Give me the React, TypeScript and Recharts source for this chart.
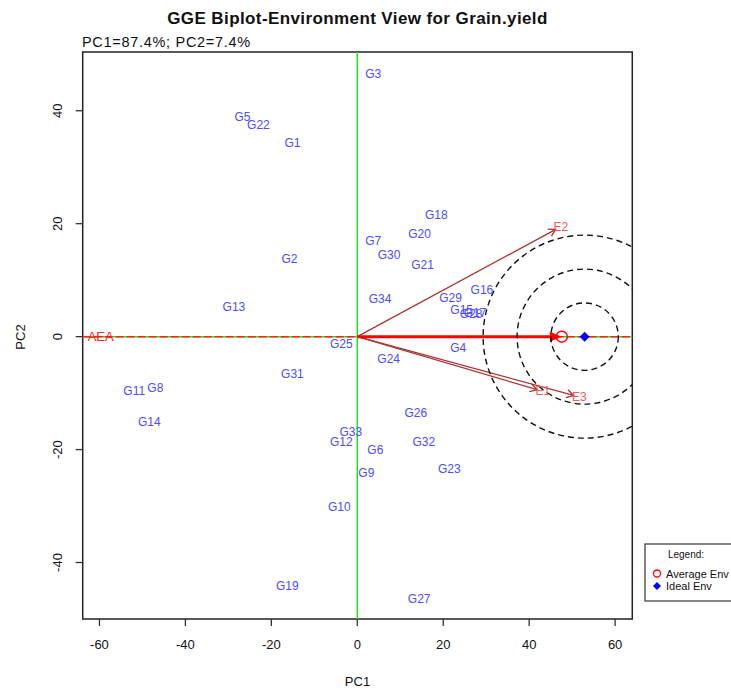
import React from "react";
import {
  ScatterChart,
  Scatter,
  XAxis,
  YAxis,
  ReferenceLine,
  ReferenceDot,
  ReferenceArea,
  Customized,
} from "recharts";

// genotype scores
const genotypes = [
  "G1", "G2", "G3", "G4", "G5", "G6", "G7", "G8", "G9", "G10",
  "G11", "G12", "G13", "G14", "G15", "G16", "G17", "G18", "G19", "G20",
  "G21", "G22", "G23", "G24", "G25", "G26", "G27", "G28", "G29", "G30",
  "G31", "G32", "G33", "G34",
];
const genoPC1 = [
  -15.1, -15.8, 3.7, 23.5, -26.7, 4.2, 3.7, -47.0, 2.1, -4.2,
  -51.9, -3.7, -28.7, -48.4, 24.3, 29.0, 27.4, 18.4, -16.3, 14.5,
  15.2, -23.0, 21.4, 7.3, -3.7, 13.6, 14.4, 26.5, 21.7, 7.4,
  -15.1, 15.5, -1.5, 5.3,
];
const genoPC2 = [
  34.2, 13.8, 46.5, -2.1, 38.9, -20.0, 17.0, -9.1, -24.1, -30.2,
  -9.6, -18.7, 5.2, -15.2, 4.7, 8.2, 4.2, 21.6, -44.2, 18.1,
  12.7, 37.4, -23.5, -3.9, -1.3, -13.6, -46.4, 4.0, 6.8, 14.5,
  -6.6, -18.7, -16.8, 6.7,
];

// environments
const envNames = ["E1", "E2", "E3"];
const envPC1 = [43.2, 47.4, 51.7];
const envPC2 = [-9.7, 19.5, -10.7];

const avgEnv = { x: 47.6, y: 0 };
const idealEnv = { x: 52.9, y: 0 };

const xTicks = [-60, -40, -20, 0, 20, 40, 60];
const yTicks = [-40, -20, 0, 20, 40];

const genoData = genotypes.map((name, i) => ({ name, x: genoPC1[i], y: genoPC2[i] }));
const envData = envNames.map((name, i) => ({ name, x: envPC1[i], y: envPC2[i] }));

const FONT = "'Liberation Sans', Arial, sans-serif";
const GREEN = "#22e022";
const BROWN = "#a83434";
const circleRadii = [33.7, 67.5, 101.5];

const GenoLabel = (props: any) => (
  <text
    x={props.cx}
    y={props.cy}
    textAnchor="middle"
    dominantBaseline="central"
    fontSize={12}
    fontFamily={FONT}
    fill="#4b4bff"
  >
    {props.payload.name}
  </text>
);

const EnvLabel = (props: any) => (
  <text
    x={props.cx}
    y={props.cy}
    textAnchor="middle"
    dominantBaseline="central"
    fontSize={12}
    fontFamily={FONT}
    fill="#f05a5a"
  >
    {props.payload.name}
  </text>
);

const AvgMarker = (props: any) => (
  <circle cx={props.cx} cy={props.cy} r={5.5} fill="none" stroke="#ff0000" strokeWidth={1.5} />
);

const IdealMarker = (props: any) => {
  const { cx, cy } = props;
  const s = 5;
  return (
    <polygon
      points={`${cx},${cy - s} ${cx + s},${cy} ${cx},${cy + s} ${cx - s},${cy}`}
      fill="#0000ff"
    />
  );
};

// vector from the origin with an arrow head, shortened a little at the tip
const envArrow = (props: any) => {
  const { x1, y1, x2, y2 } = props;
  const dx = x2 - x1;
  const dy = y2 - y1;
  const len = Math.hypot(dx, dy);
  const ux = dx / len;
  const uy = dy / len;
  const ex = x2 - ux * 6;
  const ey = y2 - uy * 6;
  const h = 8;
  const c = Math.cos(Math.PI / 6);
  const s = Math.sin(Math.PI / 6);
  const ax = ex - h * (ux * c - uy * s);
  const ay = ey - h * (uy * c + ux * s);
  const bx = ex - h * (ux * c + uy * s);
  const by = ey - h * (uy * c - ux * s);
  return (
    <g>
      <line x1={x1} y1={y1} x2={ex} y2={ey} stroke={BROWN} strokeWidth={1.3} />
      <polyline points={`${ax},${ay} ${ex},${ey} ${bx},${by}`} fill="none" stroke={BROWN} strokeWidth={1.3} />
    </g>
  );
};

const aeaArrow = (props: any) => {
  const { x1, y1, x2, y2 } = props;
  const dir = x2 > x1 ? 1 : -1;
  const h = 12;
  return (
    <g>
      <line x1={x1} y1={y1} x2={x2 - dir * h} y2={y2} stroke="#ff0000" strokeWidth={3} />
      <polygon points={`${x2},${y2} ${x2 - dir * h},${y2 - 5} ${x2 - dir * h},${y2 + 5}`} fill="#ff0000" />
    </g>
  );
};

const YTick = (props: any) => {
  const { x, y, payload } = props;
  return (
    <text
      x={x}
      y={y}
      transform={`rotate(-90, ${x}, ${y})`}
      textAnchor="middle"
      fontSize={13}
      fontFamily={FONT}
      fill="#111"
    >
      {payload.value}
    </text>
  );
};

const Annotations = () => (
  <g fontFamily={FONT}>
    <text x={357.5} y={24} textAnchor="middle" fontSize={17} fontWeight="bold" letterSpacing={0.4} fill="#111">
      GGE Biplot-Environment View for Grain.yield
    </text>
    <text x={82} y={47} fontSize={14.5} letterSpacing={0.7} fill="#111">
      PC1=87.4%; PC2=7.4%
    </text>
    <text x={357.5} y={686} textAnchor="middle" fontSize={13} fill="#111">
      PC1
    </text>
    <text x={25} y={337} transform="rotate(-90, 25, 337)" textAnchor="middle" fontSize={13} fill="#111">
      PC2
    </text>
    <g>
      <rect x={645} y={544} width={100} height={57} fill="#fff" stroke="#333" strokeWidth={1.2} />
      <text x={686} y={558} textAnchor="middle" fontSize={10} fill="#111">
        Legend:
      </text>
      <circle cx={657} cy={573.5} r={3.5} fill="none" stroke="#ff0000" strokeWidth={1.3} />
      <text x={666} y={577.5} fontSize={11} fill="#111">
        Average Env
      </text>
      <polygon points="657,582 661,586 657,590 653,586" fill="#0000ff" />
      <text x={666} y={590} fontSize={11} fill="#111">
        Ideal Env
      </text>
    </g>
  </g>
);

export default function App() {
  return (
    <div
      style={{
        position: "absolute",
        left: 0,
        top: 0,
        width: 731,
        height: 693,
        overflow: "hidden",
        background: "#fff",
      }}
    >
      <ScatterChart width={731} height={693} margin={{ top: 52, right: 98.7, bottom: 14, left: 22.7 }}>
        <XAxis
          type="number"
          dataKey="x"
          domain={[-63.9, 64]}
          ticks={xTicks}
          allowDataOverflow
          axisLine={false}
          tickSize={7}
          tickMargin={14}
          height={60}
          tickLine={{ stroke: "#333", strokeWidth: 1.3 }}
          tick={{ fontSize: 13, fontFamily: FONT, fill: "#111" }}
        />
        <YAxis
          type="number"
          dataKey="y"
          domain={[-50, 50.4]}
          ticks={yTicks}
          allowDataOverflow
          axisLine={false}
          tickSize={7}
          tickMargin={14}
          width={60}
          tickLine={{ stroke: "#333", strokeWidth: 1.3 }}
          tick={<YTick />}
        />
        <ReferenceArea
          x1={-63.9}
          x2={64}
          y1={-50}
          y2={50.4}
          fill="none"
          fillOpacity={0}
          stroke="#222"
          strokeWidth={1.5}
          ifOverflow="visible"
        />
        <ReferenceLine x={0} stroke={GREEN} strokeWidth={1.5} />
        <ReferenceLine y={0} stroke={GREEN} strokeWidth={1.5} />
        <ReferenceLine
          y={0}
          stroke="#ff2020"
          strokeWidth={1.5}
          strokeDasharray="8 3"
          label={{ value: "AEA", position: "insideLeft", offset: 5, fill: "#ff2020", fontSize: 13, fontFamily: FONT }}
        />
        {circleRadii.map((r) => (
          <ReferenceDot
            key={r}
            x={idealEnv.x}
            y={idealEnv.y}
            r={r}
            fill="none"
            stroke="#111"
            strokeWidth={1.4}
            strokeDasharray="6 4"
            ifOverflow="hidden"
          />
        ))}
        {envData.map((e) => (
          <ReferenceLine
            key={e.name}
            segment={[
              { x: 0, y: 0 },
              { x: e.x, y: e.y },
            ]}
            shape={envArrow}
          />
        ))}
        <ReferenceLine
          segment={[
            { x: 0, y: 0 },
            { x: avgEnv.x, y: avgEnv.y },
          ]}
          shape={aeaArrow}
        />
        <Scatter data={genoData} shape={GenoLabel} isAnimationActive={false} />
        <Scatter data={envData} shape={EnvLabel} isAnimationActive={false} />
        <Scatter data={[avgEnv]} shape={AvgMarker} isAnimationActive={false} />
        <Scatter data={[idealEnv]} shape={IdealMarker} isAnimationActive={false} />
        <Customized component={Annotations} />
      </ScatterChart>
    </div>
  );
}
